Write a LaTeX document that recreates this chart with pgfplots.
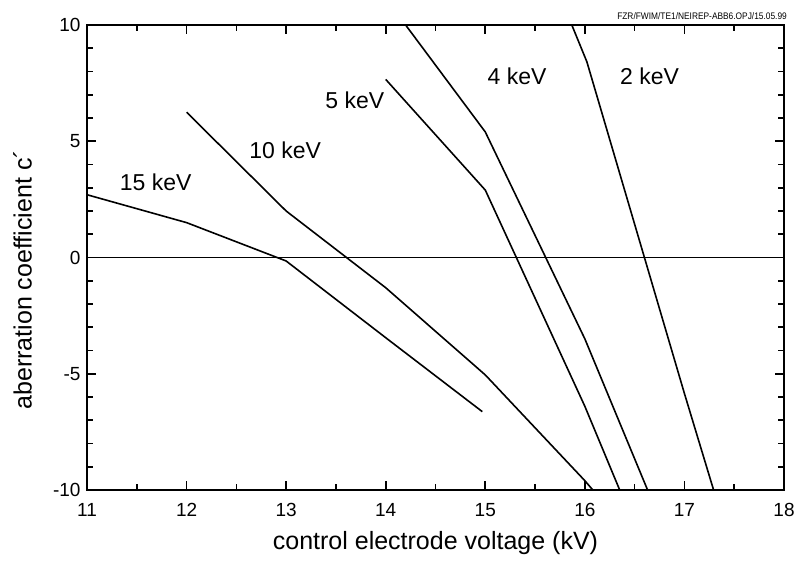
\documentclass[border=0pt]{standalone}
\usepackage{pgfplots}
\pgfplotsset{compat=1.18}
\usepackage{fontspec}
\setmainfont{Liberation Sans}
\begin{document}
\begin{tikzpicture}
\begin{axis}[
  scale only axis, width=697pt, height=465pt,
  xmin=11, xmax=18, ymin=-10, ymax=10,
  xtick={11,12,13,14,15,16,17,18},
  xticklabels={11,12,13,14,15,16,17,18},
  ytick={-10,-5,0,5,10},
  yticklabels={-10,-5,0,5,10},
  minor x tick num=1, minor y tick num=4,
  tick align=inside, major tick length=9pt, minor tick length=6pt,
  every tick/.style={black, line width=1.6pt},
  tick label style={font=\fontsize{19}{21}\selectfont},
  xticklabel style={yshift=-10pt},
  yticklabel style={xshift=-3pt},
  xlabel={control electrode voltage (kV)},
  ylabel={aberration coefficient c´},
  label style={font=\fontsize{25}{28}\selectfont},
  xlabel style={at={(axis description cs:0.5,-0.114)}, anchor=center},
  ylabel style={at={(axis description cs:-0.0925,0.452)}, anchor=center},
  clip=true,
]
\coordinate (sw) at (rel axis cs:0,0);
\coordinate (ne) at (rel axis cs:1,1);
\addplot[black, line width=1.9pt] coordinates {(11,0) (18,0)};
% 15 keV
\addplot[black, line width=1.6pt] coordinates {(11,2.7) (12,1.5) (13,-0.15) (14,-3.45) (14.97,-6.63)};
% 10 keV
\addplot[black, line width=1.6pt] coordinates {(12,6.25) (13,2.0) (14,-1.3) (15,-5.05) (16,-9.6) (16.08,-10.0)};
% 5 keV
\addplot[black, line width=1.6pt] coordinates {(14,7.66) (15,2.9) (16,-6.4) (16.35,-10.0)};
% 4 keV
\addplot[black, line width=1.6pt] coordinates {(14,11.15) (15,5.4) (16,-3.5) (16.63,-10.0)};
% 2 keV
\addplot[black, line width=1.6pt] coordinates {(15.85,10.2) (16.02,8.42) (17,-5.85) (17.3,-10.1)};
\node[font=\fontsize{23}{26}\selectfont] at (axis cs:11.69,3.25) {15 keV};
\node[font=\fontsize{23}{26}\selectfont] at (axis cs:12.99,4.62) {10 keV};
\node[font=\fontsize{23}{26}\selectfont] at (axis cs:13.69,6.77) {5 keV};
\node[font=\fontsize{23}{26}\selectfont] at (axis cs:15.32,7.8) {4 keV};
\node[font=\fontsize{23}{26}\selectfont] at (axis cs:16.65,7.8) {2 keV};
\end{axis}
\draw[line width=2.6pt] (sw) rectangle (ne);
\node[anchor=south east, font=\fontsize{9.5}{10}\selectfont, inner sep=0pt, xscale=0.88] at ([xshift=3pt,yshift=5.5pt]ne) {FZR/FWIM/TE1/NEIREP-ABB6.OPJ/15.05.99};
\pgfresetboundingbox
\path ([xshift=-87pt,yshift=-70pt]sw) rectangle ++(795pt,560pt);
\end{tikzpicture}
\end{document}
